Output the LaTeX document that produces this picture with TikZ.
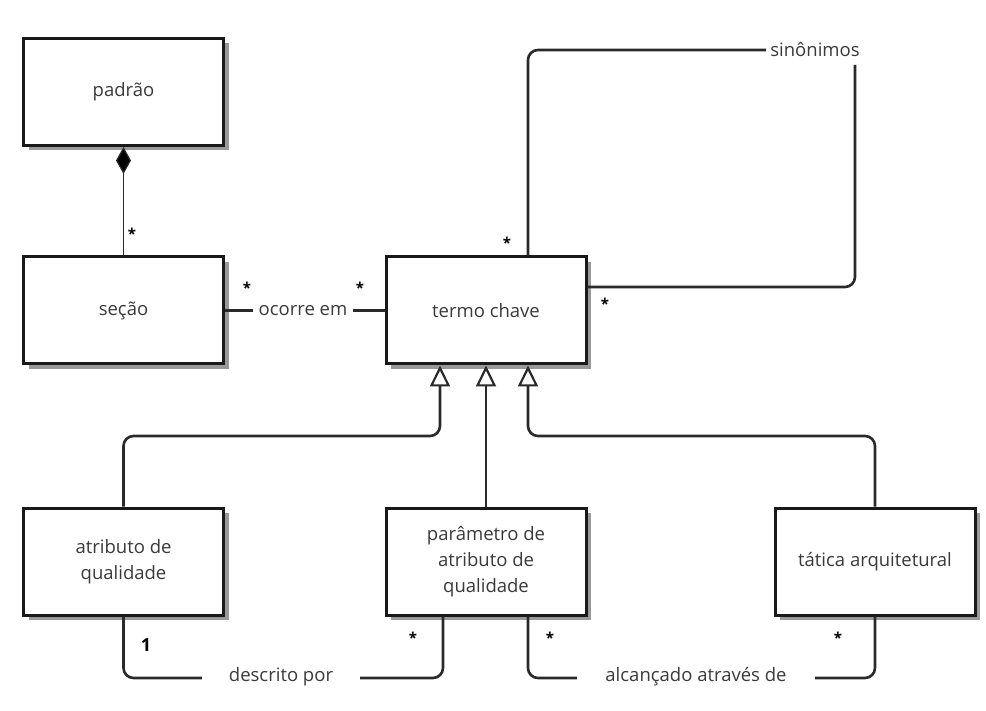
\documentclass[tikz,border=0pt]{standalone}
\usepackage{fontspec}
\setmainfont{Open Sans}
\usetikzlibrary{arrows.meta,shadows,calc}
\definecolor{txt}{HTML}{3A3A3A}
\definecolor{ln}{HTML}{2A2A2A}
\tikzset{
  cls/.style={draw=black!90, line width=3pt, fill=white, minimum width=200pt, minimum height=107pt,
    align=center, text=txt, font=\fontsize{18.5}{26}\selectfont,
    drop shadow={shadow xshift=5pt, shadow yshift=-5pt, fill=black!40, opacity=1}},
  conn/.style={draw=ln, line width=2.6pt, rounded corners=10pt},
  lbl/.style={text=txt, font=\fontsize{18.5}{24}\selectfont, inner sep=0pt},
  mult/.style={text=black, font=\fontsize{15}{17}\selectfont\bfseries, inner sep=0pt},
  gen/.style={conn, -{Triangle[open, length=21pt, width=20pt, line width=2.2pt]}},
}
\begin{document}
\begin{tikzpicture}[x=1pt,y=-1pt]
\useasboundingbox (0,0) rectangle (986,711);
\fill[white] (0,0) rectangle (986,711);

% classes
\node[cls] (padrao) at (123.5,92) {padrão};
\node[cls] (secao)  at (123.5,310.5) {seção};
\node[cls] (termo)  at (486,310.5) {termo chave};
\node[cls] (atr)    at (123.5,561.5) {atributo de\\qualidade};
\node[cls] (par)    at (486,561.5) {parâmetro de\\atributo de\\qualidade};
\node[cls] (tat)    at (875,561.5) {tática arquitetural};

% helper coordinates
\coordinate (x440) at (440,0);
\coordinate (x528) at (528,0);
\coordinate (x443) at (443,0);
\coordinate (y287) at (0,287);
\coordinate (y436) at (0,436);
\coordinate (y678) at (0,678);
\coordinate (sr)   at (855,65);

% composition
\draw[draw=ln, line width=1.2pt, {Diamond[fill=black, length=27pt, width=15pt]}-] (padrao.south) -- (secao.north);
\node[mult] at (132,234) {*};

% ocorre em
\draw[conn] (secao.east) -- (termo.west);
\node[lbl, fill=white, inner xsep=6pt, inner ysep=5pt] (oc) at (303,311) {ocorre em};
\node[mult] at (247,288) {*};
\node[mult] at (360,288) {*};

% sinonimos
\node[lbl] (sin) at (815,50) {sinônimos};
\draw[conn] (termo.north -| x528) |- ([xshift=-4pt]sin.west);
\draw[conn] (sr) |- (termo.east |- y287);
\node[mult] at (507,243) {*};
\node[mult] at (605,304) {*};

% generalizations
\draw[gen] (atr.north) |- (x440 |- y436) -- (termo.south -| x440);
\draw[gen] (par.north) -- (termo.south);
\draw[gen] (tat.north) |- (x528 |- y436) -- (termo.south -| x528);

% descrito por
\draw[conn] (atr.south) |- (x443 |- y678) -- (par.south -| x443);
\node[lbl, fill=white, inner xsep=27pt, inner ysep=6pt] (dp) at (281,677) {descrito por};
\node[mult, font=\fontsize{18}{20}\selectfont\bfseries] at (146,645) {1};
\node[mult] at (413,638) {*};

% alcancado atraves de
\draw[conn] (par.south -| x528) |- (tat.south |- y678) -- (tat.south);
\node[lbl, fill=white, inner xsep=28pt, inner ysep=6pt] (al) at (696,677) {alcançado através de};
\node[mult] at (550,638) {*};
\node[mult] at (838,638) {*};
\end{tikzpicture}
\end{document}
